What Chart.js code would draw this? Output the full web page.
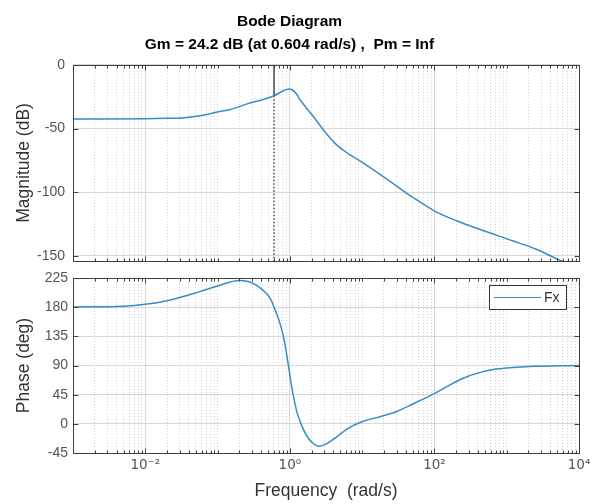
<!DOCTYPE html>
<html>
<head>
<meta charset="utf-8">
<script src="https://cdn.jsdelivr.net/npm/chart.js@4.4.1/dist/chart.umd.min.js"></script>
<style>
  html, body { margin: 0; padding: 0; background: #fff; }
  #wrap { position: relative; width: 595px; height: 504px; }
  #wrap canvas { position: absolute; left: 0; }
</style>
</head>
<body>
<div id="wrap">
  <canvas id="magChart" width="595" height="268" style="top:0"></canvas>
  <canvas id="phaseChart" width="595" height="236" style="top:268px"></canvas>
</div>
<script>
// Values (rad/s, dB, deg)
const magFreq = [0.001, 0.003, 0.01, 0.02, 0.035, 0.06, 0.1, 0.15, 0.28, 0.45, 0.604, 0.73, 0.8, 0.9, 0.98, 1.06, 1.15, 1.25, 1.39, 1.7, 2.1, 2.9, 4.4, 6.2, 10.3, 17.7, 30, 51, 101, 206, 420, 1230, 2570, 5100, 10000];
const magDb = [-42.4, -42.4, -42.3, -42.0, -41.5, -39.8, -37.0, -35.0, -30.0, -26.8, -24.2, -21.8, -20.5, -19.3, -18.9, -19.3, -20.8, -23.3, -27.4, -34.0, -40.4, -50.9, -62.6, -69.1, -76.9, -86.0, -95.2, -104.3, -114.8, -122.6, -129.1, -138.3, -144.8, -152.6, -159.0];

const phaseFreq = [0.001, 0.005, 0.01, 0.02, 0.057, 0.1, 0.2, 0.31, 0.47, 0.55, 0.604, 0.66, 0.73, 0.81, 0.88, 0.97, 1.05, 1.11, 1.24, 1.39, 1.7, 2.0, 2.55, 3.2, 3.63, 4.6, 6.15, 10.3, 17.7, 30, 51, 101, 146, 245, 420, 720, 1230, 2070, 10000];
const phaseDeg = [180.3, 181.5, 184.4, 190.0, 204.0, 212.7, 221.0, 216.8, 201.4, 191.0, 180.0, 169.0, 155.0, 136.0, 115.0, 85.0, 60.0, 45.0, 20.0, 3.0, -18.0, -28.0, -34.5, -31.0, -27.0, -19.0, -8.0, 4.0, 11.0, 19.0, 31.0, 47.0, 57.0, 70.0, 79.0, 84.5, 87.0, 88.5, 90.0];

const seriesLabel = "Fx";
const gmFreq = 0.604;
const gmMag = -24.2;

const freqMajor = [1e-2, 1, 1e2, 1e4];
const freqLabels = ["10\u207B\u00B2", "10\u2070", "10\u00B2", "10\u2074"];
const magTicks = [-150, -100, -50, 0];
const phaseTicks = [-45, 0, 45, 90, 135, 180, 225];

const magMin = -154, magMax = 0;
const phaseMin = -45, phaseMax = 225;
const freqMin = 1e-3, freqMax = 1e4;

// minor decade lines 2..9 (and the unlabeled decades)
const freqMinor = [];
for (let k = -3; k <= 3; k++) {
  for (let m = 1; m <= 9; m++) {
    if (m === 1 && freqMajor.indexOf(Math.pow(10, k)) >= 0) continue;
    freqMinor.push(m * Math.pow(10, k));
  }
}
const freqAll = freqMajor.concat(freqMinor);

const lineColor = "#3a8cc4";
const tickColor = "#555";
const labelColor = "#333";
const frameColor = "#404040";
Chart.defaults.font.family = "'Liberation Sans', Arial, sans-serif";

function isMajor(v) { return freqMajor.indexOf(v) >= 0; }

function freqAxis(showLabels) {
  return {
    type: "logarithmic",
    min: freqMin,
    max: freqMax,
    afterBuildTicks: s => { s.ticks = freqAll.map(v => ({ value: v })); },
    afterFit: s => {
      s.height = showLabels ? 51 : 0;
      s.paddingLeft = 0; s.paddingRight = 0;
    },
    ticks: {
      display: showLabels,
      autoSkip: false,
      maxRotation: 0,
      padding: 4,
      color: tickColor,
      font: { size: 13.5, family: "'DejaVu Sans', sans-serif" },
      callback: v => isMajor(v) ? freqLabels[freqMajor.indexOf(v)] : ""
    },
    grid: {
      drawTicks: false,
      color: c => isMajor(c.tick.value) ? "#d8d8d8" : "#d0d0d0"
    },
    border: {
      display: false,
      dash: c => (c.tick && isMajor(c.tick.value)) ? [] : [1, 2]
    },
    title: {
      display: showLabels,
      text: "Frequency  (rad/s)",
      color: labelColor,
      font: { size: 17.5 },
      padding: { top: 2, bottom: 2 }
    }
  };
}

function valueAxis(min, max, ticks, title, pad) {
  return {
    min: min,
    max: max,
    afterBuildTicks: s => { s.ticks = ticks.map(v => ({ value: v })); },
    afterFit: s => {
      s.width = 73;
      s.paddingTop = 0; s.paddingBottom = 0;
    },
    ticks: { color: tickColor, font: { size: 14 }, padding: pad },
    grid: { drawTicks: false, color: "#d8d8d8" },
    border: { display: false },
    title: {
      display: true,
      text: title,
      color: labelColor,
      font: { size: 17.5 },
      padding: { top: 14, bottom: 0 }
    }
  };
}

// box round the axes with MATLAB-style inward tick marks
const framePlugin = {
  id: "frame",
  afterDatasetsDraw(chart) {
    const { ctx, chartArea: a, scales } = chart;
    const L = Math.round(a.left) + 0.5, R = Math.round(a.right) + 0.5;
    const T = Math.round(a.top) + 0.5, B = Math.round(a.bottom) + 0.5;
    ctx.save();
    ctx.strokeStyle = frameColor;
    ctx.lineWidth = 1;
    ctx.beginPath();
    scales.x.ticks.forEach(t => {
      const px = Math.round(scales.x.getPixelForValue(t.value)) + 0.5;
      const len = isMajor(t.value) ? 5 : 3;
      ctx.moveTo(px, B); ctx.lineTo(px, B - len);
      ctx.moveTo(px, T); ctx.lineTo(px, T + len);
    });
    scales.y.ticks.forEach(t => {
      const py = Math.round(scales.y.getPixelForValue(t.value)) + 0.5;
      ctx.moveTo(L, py); ctx.lineTo(L + 5, py);
      ctx.moveTo(R, py); ctx.lineTo(R - 5, py);
    });
    ctx.stroke();
    ctx.strokeRect(L, T, R - L, B - T);
    ctx.restore();
  }
};

const legendPlugin = {
  id: "boxLegend",
  afterDraw(chart) {
    const { ctx, chartArea: a } = chart;
    const ds = chart.data.datasets[0];
    const w = 77, h = 24;
    const x = Math.round(a.right) - 13 - w, y = Math.round(a.top) + 7;
    ctx.save();
    ctx.fillStyle = "#fff";
    ctx.fillRect(x, y, w, h);
    ctx.strokeStyle = "#333";
    ctx.lineWidth = 1;
    ctx.strokeRect(x + 0.5, y + 0.5, w, h);
    ctx.strokeStyle = ds.borderColor;
    ctx.beginPath();
    ctx.moveTo(x + 5, y + h / 2 + 0.5);
    ctx.lineTo(x + 52, y + h / 2 + 0.5);
    ctx.stroke();
    ctx.fillStyle = labelColor;
    ctx.font = "14px 'Liberation Sans', Arial, sans-serif";
    ctx.textBaseline = "middle";
    ctx.fillText(ds.label, x + 55, y + h / 2 + 1);
    ctx.restore();
  }
};

const pts = (xs, ys) => xs.map((x, i) => ({ x: x, y: ys[i] }));

new Chart(document.getElementById("magChart"), {
  type: "line",
  data: {
    datasets: [{
      label: seriesLabel,
      data: pts(magFreq, magDb),
      borderColor: lineColor,
      borderWidth: 1.5,
      pointRadius: 0,
      cubicInterpolationMode: "monotone"
    }, {
      label: "gm",
      data: [{ x: gmFreq, y: 0 }, { x: gmFreq, y: gmMag }],
      borderColor: "#222",
      borderWidth: 1.2,
      pointRadius: 0
    }, {
      label: "gm-dotted",
      data: [{ x: gmFreq, y: gmMag }, { x: gmFreq, y: magMin }],
      borderColor: "#222",
      borderWidth: 1.2,
      borderDash: [1.5, 2],
      pointRadius: 0
    }]
  },
  options: {
    responsive: false,
    animation: false,
    layout: { padding: { left: 0, right: 16, top: 0, bottom: 7 } },
    plugins: {
      legend: { display: false },
      tooltip: { enabled: false },
      title: {
        display: true,
        text: ["Bode Diagram", "Gm = 24.2 dB (at 0.604 rad/s) ,  Pm = Inf"],
        color: "#000",
        font: { size: 15.5, weight: "bold", lineHeight: 1.48 },
        padding: { top: 10.5, bottom: 8.5 }
      }
    },
    scales: {
      x: freqAxis(false),
      y: valueAxis(magMin, magMax, magTicks, "Magnitude (dB)", 8)
    }
  },
  plugins: [framePlugin]
});

new Chart(document.getElementById("phaseChart"), {
  type: "line",
  data: {
    datasets: [{
      label: seriesLabel,
      data: pts(phaseFreq, phaseDeg),
      borderColor: lineColor,
      borderWidth: 1.5,
      pointRadius: 0,
      cubicInterpolationMode: "monotone"
    }]
  },
  options: {
    responsive: false,
    animation: false,
    layout: { padding: { left: 0, right: 16, top: 10, bottom: 0 } },
    plugins: {
      legend: { display: false },
      tooltip: { enabled: false }
    },
    scales: {
      x: freqAxis(true),
      y: valueAxis(phaseMin, phaseMax, phaseTicks, "Phase (deg)", 5)
    }
  },
  plugins: [framePlugin, legendPlugin]
});
</script>
</body>
</html>
